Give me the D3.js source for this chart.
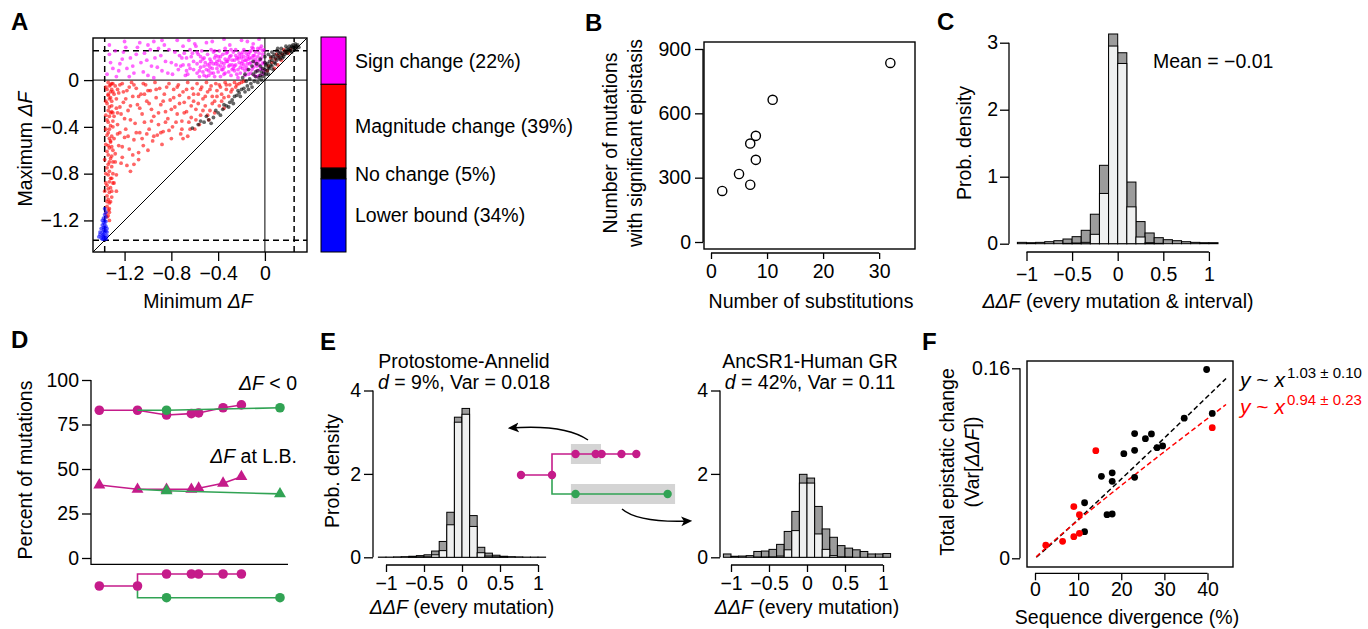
<!DOCTYPE html>
<html>
<head>
<meta charset="utf-8">
<script src="https://cdn.jsdelivr.net/npm/d3@7"></script>
<style>
  body { margin: 0; background: #fff; }
  svg { display: block; }
  text { font-family: "Liberation Sans", Arial, Helvetica, sans-serif; font-size: 19.5px; fill: #000; }
</style>
</head>
<body>
<svg id="fig" width="1368" height="629"></svg>
<script>
// ---------- data ----------

// A: (minimum dF, maximum dF) per mutation, in hundredths
const aRed = [
  [-134,-2],[-133,-5],[-135,-8],[-132,-10],[-134,-13],[-133,-16],[-131,-18],[-135,-20],[-133,-23],[-134,-26],
  [-132,-28],[-133,-31],[-135,-34],[-134,-36],[-132,-39],[-133,-42],[-134,-45],[-135,-47],[-133,-50],[-132,-53],
  [-134,-56],[-133,-58],[-135,-61],[-134,-64],[-132,-67],[-133,-70],[-134,-72],[-135,-75],[-133,-78],[-134,-81],
  [-132,-84],[-133,-87],[-135,-90],[-134,-93],[-133,-96],[-135,-99],[-134,-102],[-133,-105],[-135,-108],[-134,-111],
  [-136,-114],[-135,-117],[-134,-12],[-131,-22],[-130,-35],[-131,-48],[-130,-60],[-131,-74],[-130,-88],[-136,-30],
  [-136,-55],[-136,-80],[-137,-95],[-132,-4],[-130,-10],
  [-131,-3],[-132,-15],[-131,-27],[-130,-40],[-132,-52],[-131,-65],[-130,-80],[-132,-92],[-131,-100],[-133,-110],
  [-136,-6],[-136,-18],[-136,-42],[-137,-68],[-136,-88],[-135,-104],[-134,-116],[-133,-120],[-131,-8],[-130,-28],
  [-131,-57],[-130,-70],[-131,-84],[-131,-95],[-132,-104],[-133,-113],
  [-128,-5],[-127,-16],[-129,-31],[-126,-46],[-128,-63],[-127,-81],[-125,-11],[-124,-23],[-126,-38],[-125,-56],
  [-123,-71],[-122,-3],[-121,-19],[-123,-29],[-120,-49],[-122,-66],[-118,-9],[-117,-26],[-119,-42],[-116,-59],
  [-118,-73],[-114,-2],[-113,-14],[-115,-34],[-112,-51],[-110,-7],[-109,-21],[-111,-37],[-108,-62],[-106,-12],
  [-105,-29],[-107,-45],[-104,-56],[-102,-4],[-101,-18],[-103,-36],[-100,-60],[-98,-9],[-97,-25],[-99,-42],
  [-96,-52],[-94,-2],[-93,-15],[-95,-31],[-92,-47],[-90,-7],[-89,-21],[-91,-38],[-88,-55],[-86,-12],
  [-85,-27],[-87,-44],[-82,-3],[-81,-17],[-83,-33],[-80,-50],[-78,-8],[-77,-23],[-79,-40],[-74,-4],
  [-73,-13],[-75,-29],[-72,-46],[-70,-10],[-69,-19],[-71,-35],[-66,-2],[-65,-15],[-67,-27],[-64,-42],
  [-62,-7],[-61,-18],[-63,-32],[-58,-3],[-57,-12],[-59,-25],[-56,-38],[-54,-6],[-53,-16],[-55,-30],
  [-50,-2],[-49,-10],[-51,-22],[-48,-34],[-46,-5],[-45,-14],[-47,-26],[-42,-3],[-41,-9],[-43,-18],
  [-38,-6],[-37,-12],[-39,-22],[-34,-2],[-33,-8],[-35,-15],[-30,-4],[-29,-10],[-26,-2],[-25,-6],[-22,-3],
  [-130,-3],[-129,-12],[-127,-24],[-126,-8],[-124,-4],[-121,-10],[-119,-16],[-116,-6],[-112,-4],[-108,-14],
  [-104,-3],[-100,-9],[-129,-50],[-128,-70],[-129,-88],[-127,-95],[-115,-78],[-112,-72],[-108,-68],[-70,-50],
  [-66,-48],[-60,-42],
  [-126,-28],[-124,-45],[-122,-57],[-120,-33],[-117,-48],[-115,-22],[-113,-64],[-110,-45],[-107,-24],[-105,-50],
  [-103,-12],[-101,-46],[-99,-20],[-97,-35],[-95,-48],[-93,-8],[-91,-28],[-89,-45],[-87,-18],[-85,-36],
  [-84,-6],[-82,-43],[-80,-25],[-78,-15],[-76,-36],[-75,-6],[-73,-20],[-71,-42],[-69,-28],[-67,-8],
  [-65,-36],[-63,-22],[-61,-12],[-59,-34],[-57,-20],[-55,-8],[-53,-26],[-51,-14],[-49,-30],[-47,-8],
  [-45,-20],[-43,-28],[-41,-14],[-39,-4],[-37,-18],[-35,-24],[-33,-4],[-31,-14],[-28,-8],[-24,-4],
  [-20,-2],[-18,-1],
  [3,12],[6,15],[9,18],[12,20],[15,22],[18,24],[5,19],[10,22],[14,17],[20,23],[8,10],[2,8],[16,26],[22,26],[11,13]
]
const aPink = [
  [-135,5],[-132,15],[-128,25],[-125,8],[-122,18],[-119,28],[-116,3],[-113,12],[-110,22],[-107,32],
  [-104,7],[-101,17],[-98,26],[-95,2],[-92,11],[-89,21],[-86,30],[-83,6],[-80,15],[-77,24],
  [-74,9],[-71,19],[-68,4],[-65,13],[-62,23],[-59,29],[-56,8],[-53,18],[-50,3],[-47,14],
  [-44,24],[-41,10],[-38,20],[-35,5],[-32,16],[-29,26],[-26,12],[-23,2],[-20,22],[-17,8],
  [-14,18],[-11,28],[-8,14],[-5,4],[-2,22],
  [-48,8],[-46,16],[-44,6],[-42,14],[-40,20],[-38,12],[-36,9],[-34,18],[-33,23],[-31,7],
  [-30,13],[-28,17],[-27,10],[-25,21],[-24,5],[-22,15],[-21,11],[-20,19],[-19,24],[-18,13],
  [-17,4],[-16,17],[-15,9],[-14,22],[-13,14],[-12,6],[-11,19],[-10,11],[-9,16],[-8,24],
  [-7,8],[-6,20],[-5,13],[-4,17],[-3,10],[-2,5],[-1,15],[-1,26],[-3,29],[-6,27],
  [-9,21],[-12,25],[-15,14],[-18,20],[-23,18],[-26,8],[-29,21],[-35,14],[-39,17],[-43,19],
  [-47,11],[-52,12],[-55,20],[-58,6],[-61,16],[-64,10],[-67,19],[-70,13],
  [-60,31],[-45,33],[-30,30],[-20,34],[-10,31],[-75,34],[-95,33],
  [-58,14],[-57,22],[-56,3],[-55,11],[-54,25],[-53,7],[-52,19],[-51,15],[-50,9],[-49,22],
  [-48,4],[-47,18],[-46,26],[-45,10],[-44,14],[-43,3],[-42,21],[-41,16],[-40,7],[-39,25],
  [-38,3],[-37,15],[-36,22],[-35,11],[-34,6],[-33,16],[-32,24],[-31,12],[-30,20],[-29,4],
  [-28,9],[-27,24],[-26,17],[-25,13],[-24,19],[-23,9],[-22,23],[-21,6],[-20,14],[-19,10],
  [-18,26],[-17,17],[-16,11],[-15,20],[-14,5],[-13,24],[-12,15],[-11,9],[-10,21],[-9,4],
  [-8,18],[-7,12],[-6,16],[-5,23],[-4,9],[-3,19],[-2,14],[-1,8],[-2,25],[-4,27],
  [-7,3],[-10,27],[-13,19],[-16,23],[-19,16],[-22,20],[-25,26],[-28,13],[-31,18],[-34,27],
  [-37,9],[-40,13],[-43,25],[-46,6],[-49,13],[-52,4],[-55,16],[-58,24],[-61,9],[-63,20],
  [-66,5],[-69,23],[-72,12],
  [-133,22],[-130,10],[-127,3],[-124,14],[-121,24],[-118,10],[-115,19],[-112,6],[-109,28],[-106,15],
  [-103,23],[-100,4],[-97,12],[-94,19],[-91,27],[-88,8],[-85,16],[-82,26],[-79,5],[-76,13],
  [-73,21],[-70,29],[-67,8],[-64,26],[-133,30],[-120,33],[-100,30],[-88,34],[-65,34],[-50,32],
  [-35,35],[-15,33],[-5,35]
]
const aBlack = [
  [20,26],[22,27],[24,28],[25,26],[23,24],[21,25],[18,24],[19,27],[17,22],[15,23],
  [16,20],[14,21],[12,19],[13,24],[10,17],[11,21],[8,15],[9,19],[7,20],[5,13],
  [6,17],[4,16],[3,11],[2,14],[0,9],[1,13],[-1,6],[-2,10],[-4,4],[-3,7],
  [-5,2],[-6,8],[-8,3],[-9,-1],[-10,5],[-12,-3],[-13,1],[-15,-5],[-16,-1],[-18,-7],
  [-20,-8],[-22,-11],[-24,-13],[-26,-14],[-28,-17],[-30,-19],[-33,-22],[-36,-25],[-40,-28],[-44,-32],
  [-48,-34],[-52,-36],[-57,-38],[-62,-41],[26,29],[28,30],[27,27],[29,28],[24,30],[21,29],
  [11,27],[6,24],[-4,18],[-7,14],[0,20],[3,22],[-11,12],[-14,9],[-17,5],[-10,16],[-19,2],
  [25,28],[23,29],[26,31],[27,29],[22,25],[19,23],[17,25],[15,19],[13,18],[12,23],
  [9,14],[8,22],[6,12],[4,10],[2,8],[1,5],[-2,3],[-3,0],[-6,-2],[-8,7],
  [-11,-6],[-14,-8],[-17,-10],[-21,-14],[-23,-9],[-27,-20],[-31,-23],[-35,-21],[-38,-30],[-42,-26],
  [-46,-37],[-50,-31],[-55,-35],[-4,12],[0,15],[5,20],[10,25],[14,27],[18,29],[7,9],[3,5]
]
const aBlue = [
  [-140,-135],[-139,-133],[-138,-136],[-137,-134],[-136,-135],[-141,-132],[-139,-130],[-137,-131],[-138,-128],[-136,-129],
  [-140,-127],[-137,-126],[-139,-124],[-138,-122],[-136,-125],[-137,-120],[-138,-118],[-136,-117],[-137,-115],[-138,-132],
  [-135,-133],[-142,-134],[-136,-136],[-139,-136],[-137,-129],[-138,-126],[-136,-121],[-137,-123],[-139,-120],[-135,-127],
  [-136,-113],[-137,-110],[-141,-130],[-138,-134],[-135,-130]
]
const aBounds = [-1.37, 0.25]
const aTicks = [-1.2, -0.8, -0.4, 0]
const legendLabels = ['Sign change (22%)', 'Magnitude change (39%)', 'No change (5%)', 'Lower bound (34%)']
const legendPct = [22, 39, 5, 34]

// B
const bSubs = [2, 5, 7, 7, 8, 8, 11, 32]
const bMuts = [238, 317, 267, 459, 495, 383, 663, 835]
const bXTicks = [0, 10, 20, 30]
const bYTicks = [0, 300, 600, 900]

// histograms: shared breaks, total density and lower (light) part
const histBreaks = [-1.1,-1.0,-0.9,-0.8,-0.7,-0.6,-0.5,-0.4,-0.3,-0.2,-0.1,0,0.1,0.2,0.3,0.4,0.5,0.6,0.7,0.8,0.9,1.0,1.1]
const cTotal = [0.02,0.015,0.02,0.03,0.045,0.07,0.105,0.2,0.44,1.17,3.13,2.85,0.92,0.33,0.16,0.09,0.06,0.045,0.03,0.02,0.015,0.015]
const cLight = [0,0,0,0,0,0.005,0.01,0.02,0.14,0.75,2.95,2.69,0.55,0.1,0.015,0.005,0,0,0,0,0,0]
const eLTotal = [0.005,0.005,0.01,0.015,0.025,0.04,0.06,0.15,0.38,1.08,3.36,3.57,1.0,0.24,0.1,0.05,0.025,0.015,0.01,0.005,0.005,0.005]
const eLLight = [0,0,0,0,0.005,0.01,0.01,0.06,0.16,0.78,3.24,3.43,0.74,0.11,0.03,0.01,0.005,0,0,0,0,0]
const eRTotal = [0.08,0.025,0.03,0.04,0.14,0.15,0.19,0.31,0.62,1.1,1.99,1.9,1.22,0.68,0.48,0.28,0.22,0.18,0.14,0.08,0.08,0.09]
const eRLight = [0,0,0,0,0.005,0.005,0.01,0.03,0.18,0.64,1.78,1.78,0.56,0.19,0.04,0.01,0.005,0,0,0,0,0]
const histXTicks = [-1, -0.5, 0, 0.5, 1]

// D: node positions along the phylogeny and percentages
const dPinkX = [0, 10, 17.6, 24.1, 26, 32.4, 37.2]
const dGreenX = [17.6, 47.3]
const dPinkNeg = [83, 83, 80.3, 81.1, 81.5, 84.4, 86]
const dGreenNeg = [83, 84.4]
const dPinkLB = [41, 38.6, 38.6, 38.6, 39.2, 42, 45.7]
const dGreenLB = [37.8, 36]
const dYTicks = [0, 25, 50, 75, 100]

// F
const fBlackX = [39.8,41.1,34.6,23.1,25.6,27.0,28.3,29.6,23.1,20.6,15.4,17.9,17.9,23.1,11.5,16.7,17.9,11.5]
const fBlackY = [0.159,0.122,0.118,0.105,0.1007,0.1047,0.0932,0.0946,0.0909,0.0881,0.069,0.072,0.0648,0.0682,0.0468,0.0367,0.0373,0.0224]
const fRedX = [41.1,14.1,9.0,10.3,9.0,10.3,6.4,2.5]
const fRedY = [0.110,0.0906,0.0435,0.0367,0.0182,0.021,0.0143,0.011]
const fitCoef = [0.00305, 0.00367]
const fitExp = [1.03, 0.94]
const fitErr = [0.10, 0.23]
const fXTicks = [0, 10, 20, 30, 40]
const fYTicks = [0, 0.16]

// ---------- helpers ----------
const PINK = '#c51b8a', GREEN = '#31a354'
const svg = d3.select('#fig')
svg.append('rect').attr('width', 1368).attr('height', 629).attr('fill', '#fff')
const defs = svg.append('defs')
defs.append('marker').attr('id', 'arr').attr('viewBox', '0 0 10 10')
  .attr('refX', 8).attr('refY', 5).attr('markerWidth', 11).attr('markerHeight', 11)
  .attr('markerUnits', 'userSpaceOnUse').attr('orient', 'auto')
  .append('path').attr('d', 'M0,0.5 L10,5 L0,9.5 L2.5,5 z').attr('fill', '#000')

const fmtNum = d => (d < 0 ? '\u2212' : '') + Math.abs(d)

// parts: array of [string, style]; style 'i' = italic
const addText = (g, x, y, parts, opts = {}) => {
  const t = g.append('text').attr('x', x).attr('y', y)
    .attr('text-anchor', opts.anchor || 'start')
  if (opts.rotate) t.attr('transform', `rotate(-90,${x},${y})`)
  if (opts.size) t.style('font-size', opts.size + 'px')
  if (opts.color) t.style('fill', opts.color)
  if (opts.bold) t.style('font-weight', 'bold')
  if (opts.dy) t.attr('dy', opts.dy)
  ;(typeof parts === 'string' ? [[parts]] : parts).forEach(([s, st]) => {
    const sp = t.append('tspan').text(s)
    if (st === 'i') sp.style('font-style', 'italic')
  })
  return t
}

const drawAxis = (g, scale, ticks, side, at, opts = {}) => {
  const { size = 8, pad = 4, fmt = fmtNum, line = true } = opts
  const gen = (side === 'left' ? d3.axisLeft(scale) : d3.axisBottom(scale))
    .tickValues(ticks).tickSize(size).tickPadding(pad).tickFormat(fmt)
  const a = g.append('g')
    .attr('transform', side === 'left' ? `translate(${at},0)` : `translate(0,${at})`)
    .call(gen)
  a.select('.domain').remove()
  a.selectAll('.tick line').attr('stroke', '#000').attr('stroke-width', 1.3)
  if (line) {
    const [lo, hi] = d3.extent(ticks).map(scale)
    const l = a.append('line').attr('stroke', '#000').attr('stroke-width', 1.3)
    if (side === 'left') l.attr('y1', lo).attr('y2', hi)
    else l.attr('x1', lo).attr('x2', hi)
  }
  return a
}

const frame = (g, x0, y0, x1, y1) =>
  g.append('rect').attr('x', x0).attr('y', y0).attr('width', x1 - x0).attr('height', y1 - y0)
    .attr('fill', 'none').attr('stroke', '#000').attr('stroke-width', 1.4)

const drawHist = (g, x, y, total, light) => {
  const bins = total.map((t, i) => ({ x0: histBreaks[i], x1: histBreaks[i + 1], t, l: light[i] }))
  g.append('g').selectAll('rect').data(bins).join('rect')
    .attr('x', d => x(d.x0)).attr('width', d => x(d.x1) - x(d.x0))
    .attr('y', d => y(d.t)).attr('height', d => y(0) - y(d.t))
    .attr('fill', '#9c9c9c').attr('stroke', '#000').attr('stroke-width', 1)
  g.append('g').selectAll('rect').data(bins.filter(d => d.l > 0)).join('rect')
    .attr('x', d => x(d.x0)).attr('width', d => x(d.x1) - x(d.x0))
    .attr('y', d => y(d.l)).attr('height', d => y(0) - y(d.l))
    .attr('fill', '#eff0f0').attr('stroke', '#000').attr('stroke-width', 1)
}

const panelLetter = (t, x, y) => addText(svg, x, y, t, { bold: true, size: 24 })

// ---------- A ----------
const gA = svg.append('g')
const ax = d3.scaleLinear().domain([-1.47, 0.36]).range([93, 307])
const ay = d3.scaleLinear().domain([-1.47, 0.36]).range([252, 38])
const guide = (x1, y1, x2, y2, dash) => gA.append('line')
  .attr('x1', x1).attr('y1', y1).attr('x2', x2).attr('y2', y2)
  .attr('stroke', '#000').attr('stroke-width', dash ? 1.5 : 1).attr('stroke-dasharray', dash ? '6,4' : null)
guide(ax(-1.47), ay(-1.47), ax(0.36), ay(0.36))
guide(ax(0), ay(-1.47), ax(0), ay(0.36))
guide(ax(-1.47), ay(0), ax(0.36), ay(0))
aBounds.forEach(b => {
  guide(ax(b), ay(-1.47), ax(b), ay(0.36), true)
  guide(ax(-1.47), ay(b), ax(0.36), ay(b), true)
})
const aSets = [[aRed, '#ff0000'], [aPink, '#ff00ff'], [aBlack, '#000000'], [aBlue, '#0000ff']]
aSets.forEach(([pts, col]) => {
  gA.append('g').selectAll('circle').data(pts).join('circle')
    .attr('cx', d => ax(d[0] / 100)).attr('cy', d => ay(d[1] / 100)).attr('r', 1.9)
    .attr('fill', col).attr('fill-opacity', 0.6)
})
frame(gA, 93, 38, 307, 252)
drawAxis(gA, ay, aTicks, 'left', 93, { size: 9, pad: 5, line: false })
drawAxis(gA, ax, aTicks, 'bottom', 252, { size: 9, pad: 5, line: false })
addText(gA, 32, 149, [['Maximum '], ['ΔF', 'i']], { anchor: 'middle', rotate: true })
addText(gA, 198, 308, [['Minimum '], ['ΔF', 'i']], { anchor: 'middle' })

// legend bar
const ly = d3.scaleLinear().domain([0, 100]).range([37, 252])
const legendCols = ['#ff00ff', '#ff0000', '#000000', '#0000ff']
const cum = d3.cumsum(legendPct)
legendPct.forEach((p, i) => {
  const y0 = ly(cum[i] - p), y1 = ly(cum[i])
  gA.append('rect').attr('x', 321).attr('y', y0).attr('width', 25).attr('height', y1 - y0)
    .attr('fill', legendCols[i]).attr('stroke', '#000').attr('stroke-width', 1)
  addText(gA, 355, (y0 + y1) / 2, legendLabels[i], { dy: '0.36em' })
})
panelLetter('A', 11, 30)

// ---------- B ----------
const gB = svg.append('g')
const bx = d3.scaleLinear().domain([-1.25, 36.4]).range([704, 915])
const by = d3.scaleLinear().domain([-32.6, 932.6]).range([249, 42])
frame(gB, 704, 42, 915, 249)
drawAxis(gB, by, bYTicks, 'left', 703, { size: 8, pad: 4 })
drawAxis(gB, bx, bXTicks, 'bottom', 253, { size: 6, pad: 5 })
gB.append('g').selectAll('circle').data(bSubs.map((s, i) => [s, bMuts[i]])).join('circle')
  .attr('cx', d => bx(d[0])).attr('cy', d => by(d[1])).attr('r', 4.6)
  .attr('fill', '#fff').attr('stroke', '#000').attr('stroke-width', 1.4)
addText(gB, 617, 143, 'Number of mutations', { anchor: 'middle', rotate: true })
addText(gB, 642, 143, 'with significant epistasis', { anchor: 'middle', rotate: true })
addText(gB, 811, 308, 'Number of substitutions', { anchor: 'middle' })
panelLetter('B', 585, 31)

// ---------- C ----------
const gC = svg.append('g')
const cx = d3.scaleLinear().domain([-1, 1]).range([1026.5, 1208.9])
const cy = d3.scaleLinear().domain([0, 3]).range([243.7, 42.7])
drawHist(gC, cx, cy, cTotal, cLight)
drawAxis(gC, cy, [0, 1, 2, 3], 'left', 1009, { size: 9, pad: 2 })
drawAxis(gC, cx, histXTicks, 'bottom', 252, { size: 9, pad: 6 })
addText(gC, 1153, 68, 'Mean = \u22120.01')
addText(gC, 971, 143, 'Prob. density', { anchor: 'middle', rotate: true })
addText(gC, 1118, 308, [['ΔΔF', 'i'], [' (every mutation & interval)']], { anchor: 'middle' })
panelLetter('C', 937, 30)

// ---------- D ----------
const gD = svg.append('g')
const dx = d3.scaleLinear().domain([0, 50]).range([99.3, 290.3])
const dy = d3.scaleLinear().domain([0, 100]).range([558, 380])
gD.append('path').attr('d', `M91,${dy(100)}V564.3H288`).attr('fill', 'none')
  .attr('stroke', '#000').attr('stroke-width', 1.3)
drawAxis(gD, dy, dYTicks, 'left', 91, { size: 9, pad: 3, line: false })
const dLine = d3.line().x(d => dx(d[0])).y(d => dy(d[1]))
const tri = d3.symbol(d3.symbolTriangle, 62)
const dSeries = [
  [dPinkX, dPinkNeg, PINK, 'circle'],
  [[dPinkX[1], ...dGreenX], [dPinkNeg[1], ...dGreenNeg], GREEN, 'circle'],
  [dPinkX, dPinkLB, PINK, 'tri'],
  [[dPinkX[1], ...dGreenX], [dPinkLB[1], ...dGreenLB], GREEN, 'tri']
]
dSeries.forEach(([xs, ys, col, shape]) => {
  const pts = xs.map((x, i) => [x, ys[i]])
  gD.append('path').attr('d', dLine(pts)).attr('fill', 'none').attr('stroke', col).attr('stroke-width', 1.6)
  const marks = col === GREEN ? pts.slice(1) : pts
  if (shape === 'circle') {
    gD.append('g').selectAll('circle').data(marks).join('circle')
      .attr('cx', d => dx(d[0])).attr('cy', d => dy(d[1])).attr('r', 4.8).attr('fill', col)
  } else {
    gD.append('g').selectAll('path').data(marks).join('path').attr('d', tri)
      .attr('transform', d => `translate(${dx(d[0])},${dy(d[1])})`).attr('fill', col)
  }
})
addText(gD, 297, 390, [['ΔF', 'i'], [' < 0']], { anchor: 'end' })
addText(gD, 297, 463, [['ΔF', 'i'], [' at L.B.']], { anchor: 'end' })
addText(gD, 32, 470, 'Percent of mutations', { anchor: 'middle', rotate: true })

// phylogeny under D and in E
const drawTree = (g, tx, yRoot, yUp, yDown, r) => {
  const path = (d, col) => g.append('path').attr('d', d).attr('fill', 'none').attr('stroke', col).attr('stroke-width', 1.6)
  path(`M${tx(dPinkX[0])},${yRoot}H${tx(dPinkX[1])}V${yUp}H${tx(dPinkX[dPinkX.length - 1])}`, PINK)
  path(`M${tx(dPinkX[1])},${yRoot}V${yDown}H${tx(dGreenX[dGreenX.length - 1])}`, GREEN)
  const dot = (x, y, col) => g.append('circle').attr('cx', tx(x)).attr('cy', y).attr('r', r).attr('fill', col)
  dot(dPinkX[0], yRoot, PINK)
  dot(dPinkX[1], yRoot, PINK)
  dPinkX.slice(2).forEach(x => dot(x, yUp, PINK))
  dGreenX.forEach(x => dot(x, yDown, GREEN))
}
drawTree(gD, dx, 586, 574, 597.7, 4.8)
panelLetter('D', 11, 348)

// ---------- E ----------
const gE = svg.append('g')
const ey = d3.scaleLinear().domain([0, 4]).range([557.3, 390.5])
const exL = d3.scaleLinear().domain([-1, 1]).range([386, 538])
const exR = d3.scaleLinear().domain([-1, 1]).range([731, 883])
drawHist(gE, exL, ey, eLTotal, eLLight)
drawHist(gE, exR, ey, eRTotal, eRLight)
drawAxis(gE, ey, [0, 2, 4], 'left', 373, { size: 9, pad: 3 })
drawAxis(gE, ey, [0, 2, 4], 'left', 720, { size: 9, pad: 3 })
drawAxis(gE, exL, histXTicks, 'bottom', 565, { size: 7, pad: 4 })
drawAxis(gE, exR, histXTicks, 'bottom', 565, { size: 7, pad: 4 })
addText(gE, 464, 368, 'Protostome-Annelid', { anchor: 'middle' })
addText(gE, 464, 389, [['d', 'i'], [' = 9%, Var = 0.018']], { anchor: 'middle' })
addText(gE, 810, 368, 'AncSR1-Human GR', { anchor: 'middle' })
addText(gE, 810, 389, [['d', 'i'], [' = 42%, Var = 0.11']], { anchor: 'middle' })
addText(gE, 339, 471, 'Prob. density', { anchor: 'middle', rotate: true })
addText(gE, 462, 614, [['ΔΔF', 'i'], [' (every mutation)']], { anchor: 'middle' })
addText(gE, 807, 614, [['ΔΔF', 'i'], [' (every mutation)']], { anchor: 'middle' })

const tx = d3.scaleLinear().domain([0, 10]).range([521, 552])
gE.append('rect').attr('x', tx(16.1)).attr('y', 444).attr('width', tx(25.8) - tx(16.1)).attr('height', 20).attr('fill', '#d4d4d4')
gE.append('rect').attr('x', tx(16.1)).attr('y', 484).attr('width', tx(49.7) - tx(16.1)).attr('height', 20).attr('fill', '#d4d4d4')
drawTree(gE, tx, 475, 454, 494, 4.2)
gE.append('path').attr('d', 'M588,440 Q565,424 510,428').attr('fill', 'none')
  .attr('stroke', '#000').attr('stroke-width', 1.5).attr('marker-end', 'url(#arr)')
gE.append('path').attr('d', 'M622,509 Q638,523 690,521').attr('fill', 'none')
  .attr('stroke', '#000').attr('stroke-width', 1.5).attr('marker-end', 'url(#arr)')
panelLetter('E', 320, 350)

// ---------- F ----------
const gF = svg.append('g')
const fx = d3.scaleLinear().domain([0, 40]).range([1035, 1207.5])
const fy = d3.scaleLinear().domain([0, 0.16]).range([558.3, 368.3])
frame(gF, 1027, 361, 1233, 567)
drawAxis(gF, fy, fYTicks, 'left', 1020, { size: 8, pad: 2, fmt: d => String(d) })
drawAxis(gF, fx, fXTicks, 'bottom', 573.3, { size: 7, pad: 2 })
const fitLine = d3.line().x(d => fx(d[0])).y(d => fy(d[1]))
const fitXs = d3.range(0.3, 44.6, 0.5)
const fitCols = ['#000000', '#ff0000']
fitCoef.forEach((a, k) => {
  gF.append('path').attr('d', fitLine(fitXs.map(x => [x, a * Math.pow(x, fitExp[k])])))
    .attr('fill', 'none').attr('stroke', fitCols[k]).attr('stroke-width', 1.5).attr('stroke-dasharray', '5,3')
})
gF.append('g').selectAll('circle').data(fBlackX.map((x, i) => [x, fBlackY[i]])).join('circle')
  .attr('cx', d => fx(d[0])).attr('cy', d => fy(d[1])).attr('r', 3.4).attr('fill', '#000')
gF.append('g').selectAll('circle').data(fRedX.map((x, i) => [x, fRedY[i]])).join('circle')
  .attr('cx', d => fx(d[0])).attr('cy', d => fy(d[1])).attr('r', 3.4).attr('fill', '#ff0000')
const eqY = [387, 414]
fitExp.forEach((e, k) => {
  const t = gF.append('text').attr('x', 1240).attr('y', eqY[k]).style('font-size', '21px').style('fill', fitCols[k])
  t.append('tspan').text('y').style('font-style', 'italic')
  t.append('tspan').text(' ~ ')
  t.append('tspan').text('x').style('font-style', 'italic')
  t.append('tspan').text(`${e.toFixed(2)} \u00b1 ${fitErr[k].toFixed(2)}`)
    .attr('dx', 2).attr('dy', -9).style('font-size', '15px')
})
addText(gF, 954, 462, 'Total epistatic change', { anchor: 'middle', rotate: true })
addText(gF, 979, 462, [['(Var['], ['ΔΔF', 'i'], ['])']], { anchor: 'middle', rotate: true })
addText(gF, 1127, 624, 'Sequence divergence (%)', { anchor: 'middle' })
panelLetter('F', 922, 350)
</script>
</body>
</html>
